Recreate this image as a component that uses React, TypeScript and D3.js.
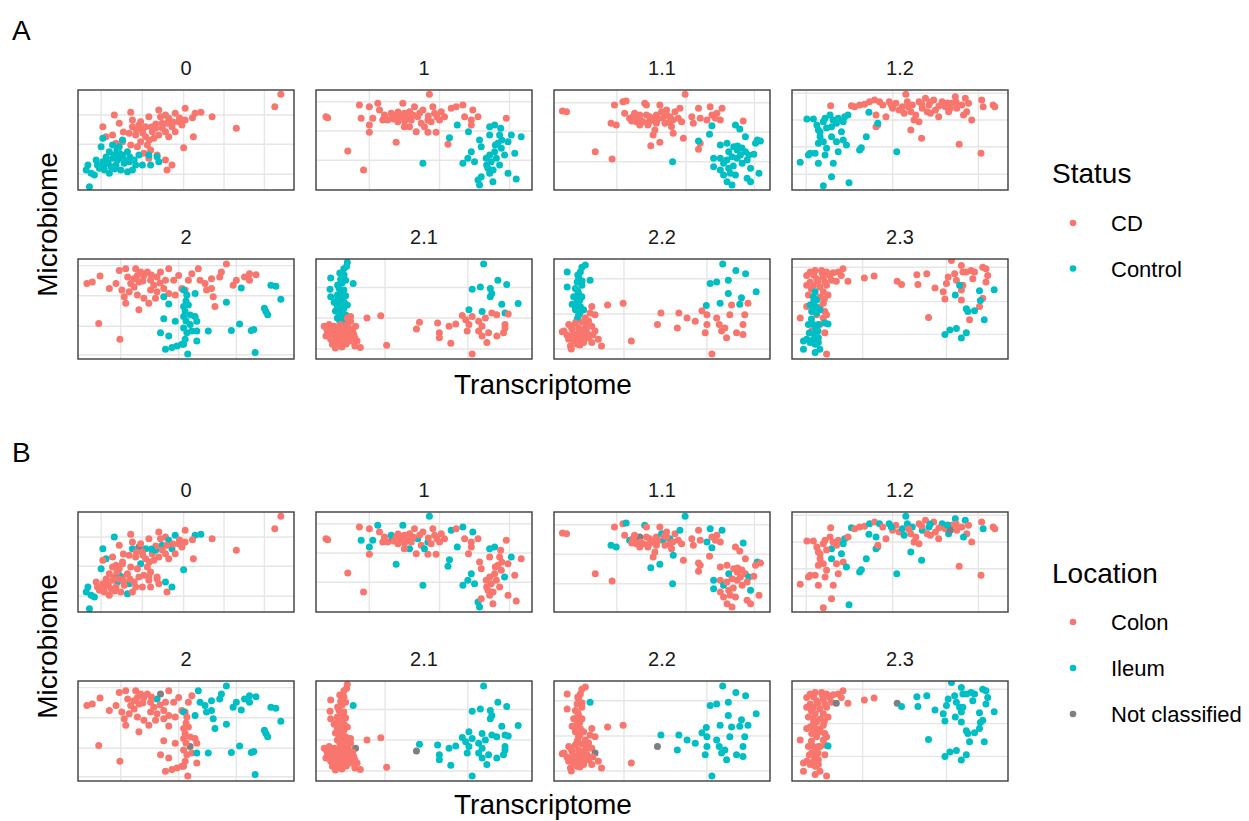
import React from "react";
import * as d3 from "d3";

// Factor levels and their colours (ggplot hue palette, grey for unclassified)
const statusLevels = ["CD", "Control"];
const locationLevels = ["Colon", "Ileum", "Not classified"];
const levelColors = ["#F8766D", "#00BFC4", "#7F7F7F"];

const clusterNames = ["0", "1", "1.1", "1.2", "2", "2.1", "2.2", "2.3"];

// Each sample: [transcriptome, microbiome, status index, location index]
type Sample = [number, number, number, number];

const cluster0: Sample[] = [
  [93.9,95.7,0,0],[91.1,83.3,0,0],[73.3,61.7,0,0],[62.1,73.3,0,0],[56.9,77.7,0,1],[54.2,76.7,0,1],[53.0,72.3,0,0],[49.6,81.7,0,0],[48.9,42.3,0,1],[53.4,53.3,0,0],
  [37.4,80,0,0],[40.5,75,0,0],[42,71.7,0,1],[45,76.7,0,1],[46.6,68.3,0,0],[43.5,63.3,0,1],[40.5,58.3,0,0],[37.4,55,0,0],[34.4,58.3,0,0],[31.3,63.3,0,1],
  [28.2,65,0,2],[25.2,63.3,0,1],[23.7,56.7,0,0],[26.7,55,0,0],[31.3,53.3,0,0],[35.9,61.7,0,1],[38.9,66.7,0,1],[32.8,73.3,0,0],[29,68.3,0,0],[42,53.3,0,0],
  [45,58.3,0,0],[48.1,65,0,0],[49.6,70,0,0],[16.8,75,0,1],[24.4,77.7,0,0],[19.1,66.7,0,0],[11.5,63.3,0,1],[16,55,0,0],[17.6,46.7,0,0],[13,53.3,0,1],
  [20.6,48.3,0,0],[29,48.3,0,1],[33.6,40,0,0],[30.5,36.7,0,0],[36.6,35,0,0],[40.5,30,0,1],[41.2,20,0,0],[43.5,25,0,1],[32.8,31.7,0,0],[24.4,45,0,0],
  [27.5,43.3,0,0],[29.8,60,0,0],[35.1,51.7,0,0],[38.2,73.3,0,0],[41.2,66.7,0,0],[32.1,45,0,0],[25.2,70,0,0],
  [36,66,0,0],[34,63,0,1],[30,57,0,0],[27,60,0,0],[39,62,0,0],[44,68,0,0],[47,72,0,0],[33,50,0,0],[21,58,0,0],
  [11.5,51.7,1,0],[10.7,43.3,1,1],[16,45,1,0],[19.1,43.3,1,0],[20.6,50,1,0],[14.5,38.3,1,0],[16.8,35,1,0],[18.3,30,1,1],[20.6,35,1,0],[22.9,38.3,1,0],
  [23.7,28.3,1,1],[26.7,25,1,0],[28.2,35,1,0],[29.8,25,1,0],[32.8,35,1,0],[36.6,33.3,1,0],[37.4,28.3,1,0],[33.6,25,1,0],[13,28.3,1,0],[15.3,23.3,1,0],
  [17.6,25,1,0],[19.8,20,1,0],[22.9,18.3,1,1],[25.2,20,1,0],[4.6,25,1,1],[3.8,20,1,1],[6.1,16.7,1,1],[7.6,15,1,1],[9.9,21.7,1,0],[12.2,20,1,0],
  [14.5,16.7,1,0],[11.5,28.3,1,0],[5.3,3.3,1,1],[8.4,30,1,0],[21.4,26.7,1,0],[19.1,36.7,1,1],[16,31.7,1,0],
  [12,24,1,0],[14,27,1,0],[17,21,1,0],[19,33,1,0],[21,31,1,0],[24,33,1,0],[13,33,1,0],[9,25,1,0],[26,30,1,0],[18,40,1,0],
];

const cluster1: Sample[] = [
  [4.6,73.3,0,0],[5.4,72.3,0,0],[14.7,39,0,0],[22,20,0,0],[20.1,85,0,0],[24.7,83.3,0,0],[28.6,86.7,0,1],[29.4,80,0,0],[20.9,71.7,0,1],[24.7,65,0,1],
  [24.7,57.7,0,0],[26.3,71.7,0,1],[31.7,75,0,0],[33.2,70,0,0],[35.5,73.3,0,2],[37.9,68.3,0,0],[37.1,47.7,0,1],[40.2,86.7,0,1],[40.9,76.7,0,0],[42.5,71.7,0,0],
  [43.3,63.3,0,1],[45.6,83.3,0,0],[47.1,73.3,0,1],[49.5,80,0,0],[51.8,70,0,1],[52.5,95.7,0,1],[54.1,83.3,0,0],[54.9,76.7,0,0],[51.8,57.7,0,0],[55.6,57.7,0,0],
  [57.2,70,0,0],[59.5,73.3,0,0],[62.6,81.7,0,1],[64.9,83.3,0,0],[68,85,0,1],[68.8,73.3,0,0],[71.9,70,0,0],[72.6,80,0,1],[75,73.3,0,0],[71.9,65,0,0],
  [61.1,45.7,0,1],[88.1,71.7,0,0],[48.7,66.7,0,0],[44.1,70,0,0],[39.4,73.3,0,0],[34.8,76.7,0,1],[30.9,70,0,0],[40.9,63.3,0,0],[46.4,58.3,0,0],[50.2,63.3,0,1],
  [53.3,68.3,0,0],[58,78.3,0,0],[37.1,75,0,0],[43.3,78.3,0,0],
  [36,71,0,0],[41,69,0,0],[45,75,0,0],[48,77,0,0],[52,74,0,0],[56,73,0,0],[38,78,0,0],[32,72,0,0],
  [49.5,26.7,1,1],[61.8,52.3,1,1],[65.4,65,1,1],[70.6,58.3,1,0],[75.7,50,1,0],[76.5,43.3,1,0],[80.4,63.3,1,1],[82.7,65,1,1],[85.5,61.7,1,0],[80.4,55,1,0],
  [85,55,1,0],[90.4,55,1,1],[95,53.3,1,0],[88.9,48.3,1,0],[84.2,46.7,1,0],[85.8,41.7,1,0],[82.7,38.3,1,0],[87.3,35,1,1],[92,36.7,1,0],[71.9,38.3,1,1],
  [70.3,31.7,1,1],[73.4,28.3,1,1],[68,26.7,1,1],[78.8,31.7,1,0],[80.4,35,1,0],[81.1,28.3,1,0],[83.5,31.7,1,0],[85,25,1,0],[79.6,21.7,1,0],[80.4,16.7,1,0],
  [88.9,16.7,1,0],[92.7,11,1,0],[81.9,8.3,1,0],[75,10,1,1],[75.7,5,1,1],[76.5,13.3,1,0],
  [83,45,1,0],[86,50,1,0],[79,25,1,0],[82,20,1,0],
];

const cluster1_1: Sample[] = [
  [3.9,79,0,0],[5.8,78.3,0,0],[19.1,38.3,0,0],[26.9,31,0,0],[28,85,0,0],[31.9,88.3,0,0],[33.4,89,0,1],[26.4,66.7,0,1],[28.8,65,0,1],[32.7,76.7,0,0],
  [35,71.7,0,1],[36.5,73.3,0,0],[38.1,68.3,0,0],[39.7,65,0,0],[38.9,71.7,0,0],[42,86.7,0,1],[42.8,85,0,0],[41.2,68.3,0,0],[43.5,65,0,0],[42.8,75,0,0],
  [45.9,70,0,0],[47.4,75,0,0],[46.7,60,0,0],[45.9,55,0,0],[49,85,0,0],[49.8,78.3,0,1],[50.5,71.7,0,1],[51.4,66.7,0,0],[52.1,80,0,0],[53.7,73.3,0,1],
  [54.4,63.3,0,0],[55.2,56.7,0,1],[56,78.3,0,0],[57.5,71.7,0,0],[58.3,81.7,0,1],[59.1,68.3,0,0],[59.9,51.7,0,0],[60.7,95.7,0,1],[63.8,73.3,0,0],[64.5,66.7,0,0],
  [66.9,81.7,0,0],[67.7,71.7,0,0],[72.3,83.3,0,1],[73.1,75,0,0],[75.4,76.7,0,0],[77,70,0,0],[77.8,81.7,0,1],[74.7,71.7,0,0],[70.8,70,0,1],[87.6,69,0,1],
  [44.8,44.3,0,1],[49,47.7,0,1],[66.9,40.7,0,0],[67.7,46.7,0,0],[53.7,68.3,0,0],[52.1,75,0,0],[47.4,66.7,0,0],[44.3,73.3,0,0],[39.7,75,0,2],[37.3,76.7,0,0],
  [40,70,0,0],[44,68,0,0],[48,71,0,0],[51,76,0,0],[55,70,0,0],[36,69,0,0],
  [54.9,28.3,1,1],[66.9,49,1,0],[72,55.7,1,0],[73.1,64.3,1,1],[84,65,1,0],[86,61,1,0],[88.6,53.3,1,0],[94.1,50,1,1],[95.6,49,1,0],[93.3,46.7,1,0],
  [77,45,1,0],[80.1,46.7,1,0],[80.9,38.3,1,1],[83.2,43.3,1,0],[84.8,40,1,0],[86.3,35,1,0],[88.6,38.3,1,0],[90.2,35,1,1],[92.5,35.7,1,0],[89.4,30,1,0],
  [87.1,26.7,1,0],[84.8,31.7,1,0],[82.4,33.3,1,0],[73.9,31.7,1,1],[77,31.7,1,0],[78.5,26.7,1,1],[73.9,23.3,1,1],[77,20,1,0],[80.9,21.7,1,0],[78.5,15,1,0],
  [81.6,16.7,1,0],[84,15,1,0],[91,21.7,1,1],[89.4,11.7,1,0],[94.9,16.7,1,0],[80.1,8.3,1,0],[82.4,5,1,0],[91,8.3,1,0],
  [85,44,1,0],[87,42,1,0],[80,30,1,0],[83,24,1,0],
];

const cluster1_2: Sample[] = [
  [17.9,84.3,0,0],[27.5,84.3,0,1],[29,83.3,0,0],[31.3,85,0,0],[33.6,85.7,0,0],[35.9,88.3,0,1],[38.2,90,0,0],[40.5,88.3,0,1],[42,85,0,0],[38.9,75,0,1],
  [43.5,73.3,0,0],[39.7,65,0,0],[38.9,63.3,0,1],[45,88.3,0,1],[48.1,86.7,0,0],[49.6,80,0,0],[51.1,83.3,0,1],[52.7,95.7,0,1],[53.4,88.3,0,1],[55,78.3,0,0],
  [55.7,85,0,1],[56.5,70,0,0],[57.3,75,0,0],[58.8,88.3,0,0],[60.3,81.7,0,1],[61.8,91.7,0,0],[63.4,85,0,1],[64.1,76.7,0,0],[65.6,90,0,0],[66.4,80,0,0],
  [67.9,73.3,0,0],[69.5,88.3,0,1],[71,83.3,0,0],[72.5,78.3,0,1],[74,86.7,0,0],[75.6,93.3,0,1],[76.3,81.7,0,0],[78.6,85,0,0],[80.2,91.7,0,1],[80.9,78.3,0,0],
  [81.7,86.7,0,0],[79.4,75,0,1],[83.2,70,0,0],[87.8,90,0,0],[88.5,83.3,0,1],[93.1,85,0,0],[93.9,83.3,0,0],[55,60,0,1],[60,51.7,0,1],[77.4,45.7,0,0],
  [87.5,36.7,0,0],[46.6,81.7,0,0],[51.9,76.7,0,1],[58.8,68.3,0,0],[62.6,78.3,0,0],[73.3,81.7,0,2],
  [60,86,0,0],[64,88,0,1],[68,84,0,0],[72,87,0,1],[76,88,0,0],[54,83,0,0],[46,85,0,1],
  [6.9,71,1,0],[9.9,71,1,0],[11.5,65,1,0],[12.2,60,1,0],[13,53.3,1,0],[14.5,68.3,1,0],[15.3,71.7,1,0],[17.6,75,1,0],[18.3,63.3,1,1],[20.6,66.7,1,0],
  [21.4,71.7,1,0],[23.7,68.3,1,1],[24.4,73.3,1,1],[25.9,75,1,0],[12.2,46.7,1,0],[14.5,48.3,1,0],[16,41.7,1,0],[18.3,53.3,1,1],[20.6,48.3,1,0],[22.9,58.3,1,1],
  [23.7,50,1,0],[25.2,45,1,1],[8.4,36.7,1,0],[10.7,36.7,1,0],[7.6,35,1,0],[3.8,27.7,1,0],[12.2,26.7,1,0],[15.3,35,1,0],[19.1,26.7,1,0],[21.4,38.3,1,0],
  [32.1,42.3,1,1],[31.3,40,1,1],[34.4,53.3,1,1],[35.6,77.7,1,1],[39.7,66.7,1,0],[48.5,38.3,1,1],[18.3,13.3,1,0],[14.5,4.3,1,0],[26.4,7.3,1,1],
  [16,62,1,0],[19,70,1,0],[13,58,1,0],
];

const cluster2: Sample[] = [
  [4.1,75.4,0,0],[6.6,77,0,0],[10.2,82.9,0,0],[14.5,70.5,0,0],[17.6,75.4,0,0],[19.1,88.5,0,0],[22.1,90.2,0,0],[26.7,90.2,0,0],[27.5,83.6,0,0],[20.3,68.9,0,0],
  [21.4,62.3,0,0],[22.1,55.7,0,0],[24.4,75.4,0,0],[25.9,80.3,0,0],[28.2,77,0,0],[30.5,83.6,0,0],[32.1,86.9,0,0],[33.6,78.7,0,0],[35.1,73.8,0,0],[36.6,82,0,1],
  [38.2,86.9,0,2],[27.5,63.9,0,0],[30.5,60.7,0,0],[32.8,55.7,0,0],[35.9,60.7,0,0],[36.6,67.2,0,0],[39.7,70.5,0,0],[40.5,78.7,0,0],[42,90.2,0,0],[44.3,78.7,0,0],
  [46.6,83.6,0,0],[48.1,70.5,0,0],[51.1,78.7,0,0],[52.7,85.2,0,0],[55.7,90.2,0,1],[56.5,78.7,0,1],[58.8,75.4,0,1],[61.8,80.3,0,1],[59.5,68.9,0,1],[61.8,70.5,0,1],
  [65.6,82,0,1],[66.4,86.9,0,1],[68.7,95.1,0,1],[71.8,73.8,0,1],[73.3,78.7,0,1],[77.1,82,0,1],[79.4,85.2,0,1],[82.4,84.3,0,1],[79.4,78.7,0,1],[63.4,52.5,0,1],
  [62.6,62.3,0,1],[28.2,49.2,0,0],[9.6,35.4,0,0],[19.4,19.7,0,0],[45,63.9,0,0],[49.6,68.9,0,0],[42,65.6,0,0],[23.7,67.2,0,0],[33.6,68.9,0,0],
  [30,78,0,0],[34,84,0,0],[26,72,0,0],[38,76,0,0],[29,87,0,0],[23,82,0,0],
  [39.7,62.3,1,0],[42,54.9,1,0],[48.9,68.9,1,1],[50.4,63.9,1,0],[51.1,54.1,1,0],[48.9,52.5,1,0],[49.6,47.5,1,0],[54.2,65.6,1,1],[48.9,42.6,1,0],[54.2,42.6,1,0],
  [55,37.7,1,0],[45,37.7,1,0],[39.7,40.2,1,0],[51.9,34.4,1,2],[48.9,31.1,1,0],[50.4,26.2,1,0],[52.7,27.9,1,0],[55,27.9,1,1],[38.2,26.2,1,0],[42,23,1,0],
  [49.6,19.7,1,0],[55,18,1,0],[48.9,14.8,1,0],[40.5,9.8,1,0],[43.5,11.5,1,0],[45.8,13.1,1,0],[48.1,14.8,1,0],[50.8,4.9,1,0],[60.3,27.9,1,1],[68.7,56.7,1,1],
  [74.8,35.1,1,1],[71,28.5,1,1],[75.6,71.1,1,1],[80.2,28.5,1,1],[81.4,29.5,1,1],[82,6.6,1,1],[86.3,50.8,1,1],[87,47.5,1,1],[87.8,44.3,1,1],[89.3,73.8,1,1],
  [91.6,72.8,1,1],[93.9,59.7,1,1],
  [50,38,1,0],[52,44,1,0],[50,58,1,0],
];

const cluster2_1: Sample[] = [
  [14.5,96.7,1,0],[14.2,92.8,1,0],[12.9,90.2,1,0],[6.8,81,1,0],[11.4,79.7,1,0],[13.7,78.7,1,0],[17.2,75.4,1,1],[6.5,69.8,1,0],[10.7,70.5,1,0],[11.4,67.2,1,0],
  [12.9,68.9,1,0],[9.9,63.9,1,0],[13.7,63.3,1,0],[6.8,62.3,1,0],[10.7,59,1,0],[12.2,55.7,1,0],[9.9,52.5,1,0],[12.9,50.8,1,0],[11.4,47.5,1,0],[10.7,44.3,1,0],
  [13.7,44.3,1,0],[12.2,39.3,1,0],[9.9,41,1,0],[14.5,54.1,1,0],[8.4,56.7,1,0],
  [10,60,1,0],[12,61,1,0],[11,52,1,0],[13,57,1,0],[9,48,1,0],[11,42,1,0],[12,46,1,0],[13,37,1,0],[11,38,1,0],[10,74,1,0],[12,76,1,0],[13,84,1,0],[11,86,1,0],
  [77.6,95.1,1,1],[84.2,78.7,1,1],[88.3,74.4,1,1],[72.3,69.8,1,1],[76.1,72.1,1,1],[80.7,70.5,1,1],[81.4,65.6,1,1],[80.7,62.3,1,1],[86,54.8,1,1],[93.6,55.4,1,1],
  [87.5,45.9,1,1],[70.8,49.2,1,1],[76.9,47.5,1,1],
  [3.8,32.8,0,0],[6.1,34.4,0,0],[8.4,32.8,0,0],[11.4,34.4,0,0],[14.5,34.4,0,0],[16,37.7,0,0],[16,42.6,0,0],[18.3,32.8,0,2],[5.3,27.9,0,0],[7.6,24.6,0,0],
  [9.9,26.2,0,0],[12.9,27.9,0,0],[15.2,29.5,0,0],[17.5,24.6,0,0],[6.8,19.7,0,0],[9.1,18,0,0],[11.4,21.3,0,0],[13.7,19.7,0,0],[16,23,0,0],[7.6,14.8,0,0],
  [10.7,14.8,0,0],[12.9,16.4,0,0],[19,18,0,0],[20.5,11.5,0,0],[23.6,41,0,0],[30,43.3,0,0],[32.7,13.8,0,0],[4.6,23,0,0],[12.2,31.1,0,0],[14.5,41,0,0],
  [5,30,0,0],[7,29,0,0],[9,31,0,0],[11,29,0,0],[13,30,0,0],[15,32,0,0],[17,29,0,0],[6,25,0,0],[8,22,0,0],[10,23,0,0],[12,25,0,0],[14,23,0,0],
  [16,26,0,0],[18,21,0,0],[8,17,0,0],[10,19,0,0],[12,18,0,0],[14,15,0,0],[16,18,0,0],[18,13,0,0],[12,12,0,0],[9,11,0,0],
  [47.9,36.7,0,1],[56.3,36.1,0,1],[61.6,32.8,0,1],[64.7,35.1,0,1],[67.7,43.6,0,1],[72.3,42.6,0,1],[70.8,34.4,0,1],[70,27.9,0,1],[75.3,37.7,0,1],[76.9,32.8,0,1],
  [78.4,41,0,1],[81.4,45.9,0,1],[83.7,44.3,0,1],[87.5,34.4,0,1],[89,44.9,0,1],[57.1,21.3,0,1],[62.4,15.7,0,1],[72.3,4.9,0,1],[75.3,27.9,0,1],[76.9,23,0,1],
  [79.1,16.4,0,1],[79.9,26.2,0,1],[83.7,23,0,1],[86.8,26.2,0,1],[87.5,31.1,0,1],[69.3,39.3,0,1],[57.1,26.2,0,1],[46.5,30,0,2],
];

const cluster2_2: Sample[] = [
  [14.5,94.1,1,0],[12.9,91.8,1,0],[12.2,86.9,1,0],[6.1,86.9,1,0],[11.4,82,1,0],[16.7,78.7,1,1],[10.7,77,1,0],[6.1,72.1,1,0],[9.9,70.5,1,0],[12.9,73.8,1,0],
  [11.4,65.6,1,0],[9.1,62.3,1,0],[12.9,62.3,1,0],[10.7,57.4,1,0],[8.4,54.8,1,0],[12.2,52.5,1,0],[9.9,49.2,1,0],[11.4,44.3,1,0],[10.7,39.3,1,0],[13.7,49.2,1,0],
  [11,68,1,0],[12,59,1,0],[10,52,1,0],[12,46,1,0],[11,41,1,0],[13,78,1,0],[11,84,1,0],[10,62,1,0],
  [78.1,95.1,1,1],[84.2,88.5,1,1],[88.7,85.2,1,1],[80.7,78.7,1,1],[72.3,75.4,1,1],[75.3,77,1,1],[80.7,65.6,1,1],[86.8,61.3,1,1],[93.6,67.2,1,1],[76.9,55.7,1,1],
  [70.5,53.4,1,1],[86,54.8,1,1],
  [17.5,52.5,0,0],[16.7,45.9,0,0],[14.5,41,0,0],[19,44.3,0,0],[6.8,34.4,0,0],[9.9,36.1,0,0],[4.6,27.9,0,0],[8.4,29.5,0,0],[11.4,31.1,0,0],[14.5,31.1,0,0],
  [17.5,32.8,0,0],[7.6,23,0,0],[9.9,24.6,0,0],[12.9,24.6,0,0],[16,24.6,0,0],[19,27.9,0,2],[20.5,19.7,0,0],[6.8,19.7,0,0],[10.7,21.3,0,0],[12.9,19.7,0,0],
  [16,21.3,0,0],[7.6,13.1,0,0],[10.7,14.8,0,0],[13.7,16.4,0,0],[17.5,16.4,0,0],[22,13.1,0,0],[3.8,27.2,0,0],[11.4,23,0,0],
  [13,37,0,0],[15,35,0,0],[8,32,0,0],[12,28,0,0],[15,28,0,0],[6,24,0,0],[9,18,0,0],[14,20,0,0],[18,24,0,0],[12,14,0,0],[8,10,0,0],[16,38,0,0],
  [24.8,54.1,0,0],[32,55.7,0,0],[35.8,18,0,0],[49.5,45.9,0,1],[57.8,45.9,0,1],[47.9,34.4,0,2],[57.1,31.1,0,1],[61.6,41,0,1],[65.4,37.7,0,1],[68.5,48.2,0,1],
  [70.8,44.3,0,1],[70.8,34.4,0,1],[70,26.2,0,1],[73.1,4.9,0,1],[75.3,41,0,1],[76.5,34.4,0,1],[77.6,27.9,0,1],[79.9,21.3,0,1],[81.4,44.3,0,1],[82.2,54.1,0,1],
  [84.5,26.2,0,1],[87.5,34.4,0,1],[88.3,44.3,0,1],[89.8,55.7,0,1],[87.5,24.6,0,1],[79.1,31.1,0,1],
];

const cluster2_3: Sample[] = [
  [6.8,83.6,0,0],[8.4,86.9,0,0],[10.7,88.5,0,0],[13.7,88.5,0,0],[16,86.9,0,0],[8.4,77,0,0],[11.4,80.3,0,0],[14.5,82,0,0],[17.5,83.6,0,0],[15.2,77,0,0],
  [18.3,78.7,0,0],[21.3,86.9,0,0],[23.6,90.2,0,0],[22.8,83.6,0,0],[25.9,77.7,0,0],[6.8,73.8,0,0],[9.9,73.8,0,0],[12.9,72.1,0,0],[16,73.8,0,0],[7.6,63.9,0,0],
  [14.5,67.2,0,0],[16.7,63.9,0,0],[6.8,52.5,0,0],[14.5,55.7,0,0],[15.2,47.5,0,0],[16,44.3,0,0],[3.8,41,0,0],[11.4,44.3,0,0],[14.5,41,0,0],[9.1,27.9,0,0],
  [12.9,34.4,0,0],[15.2,26.2,0,0],[16,4.9,0,0],[19,86.2,0,0],[20.5,77.7,0,2],
  [10,84,0,0],[12,78,0,0],[14,86,0,0],[9,70,0,0],[13,62,0,0],[10,58,0,0],[15,60,0,0],[13,52,0,0],
  [33.5,81,0,0],[38,83,0,0],[48.7,77.7,0,2],[50.7,74.4,0,1],[57.8,84.3,0,1],[58.3,74.4,0,1],[62.4,85.2,0,1],[66.2,71.1,0,1],[63.2,41.6,0,1],[70,67.2,0,1],
  [70.8,60,0,1],[71.5,75.4,0,1],[72.3,82,0,1],[73.8,98.4,0,1],[75.3,85.2,0,1],[78.4,93.4,0,1],[79.1,86.9,0,1],[80.7,86.9,0,1],[82.9,88.5,0,1],[83.7,80.3,0,1],
  [88.3,91.8,0,1],[89.8,90.2,0,1],[90.6,83.6,0,1],[89.8,77,0,1],[88.3,60.7,0,1],[86.8,52.5,0,1],[82.2,39.3,0,1],[78.4,59,0,1],[78.4,68.9,0,1],[84.5,86.9,0,1],
  [76.1,78.7,0,1],[79.1,73.8,0,1],
  [10.7,67.2,1,0],[9.9,62.3,1,0],[11.4,59,1,0],[8.4,54.1,1,0],[10.7,52.5,1,0],[12.9,49.2,1,0],[9.1,47.5,1,0],[11.4,45.9,1,0],[7.6,34.4,1,0],[9.9,34.4,1,0],
  [12.2,34.4,1,0],[15.2,36.1,1,0],[16.7,35.1,1,1],[10.7,24.6,1,0],[12.2,21.3,1,0],[9.9,19.7,1,0],[6.8,19.7,1,0],[5.3,18,1,0],[8.4,16.4,1,0],[10.7,14.8,1,0],
  [12.2,16.4,1,0],[5.3,9.8,1,0],[10.7,6.6,1,0],[12.9,9.8,1,0],[11.4,50.8,1,0],
  [9,40,1,0],[11,30,1,0],[8,26,1,0],[12,28,1,0],[10,56,1,0],
  [77.6,73.8,1,1],[75.6,63.9,1,1],[86.8,68.2,1,1],[93.6,69.2,1,1],[87.2,58.4,1,1],[80.7,50.2,1,1],[81.4,47.5,1,1],[84.5,48.2,1,1],[89,39.3,1,1],[70.8,24.6,1,1],
  [73.1,28.9,1,1],[76.1,30.5,1,1],[78.4,21,1,1],[80.7,26.2,1,1],
];

const clusterSamples = [cluster0, cluster1, cluster1_1, cluster1_2, cluster2, cluster2_1, cluster2_2, cluster2_3];

// Grid breaks per facet (free scales)
const gridX = [
  [10.7, 29.8, 48.9, 67.6, 86.3],
  [24.7, 57.2, 89.6],
  [29.1, 61.1, 92.8],
  [6.6, 46.6, 86.3],
  [19.8, 46.6, 73.3],
  [32, 70.3],
  [32.4, 70.8],
  [32.7, 71.5],
];
const gridY = [
  [75, 45.7, 15.7],
  [88.3, 59, 29.7],
  [87.3, 57.7, 28.3],
  [96.7, 70, 43.3, 15.7],
  [93.4, 63.3, 32.8, 4.3],
  [71.5, 41, 10],
  [80.3, 45, 10],
  [91.8, 57.4, 24.6],
];

const FONT = "'Liberation Sans', Arial, Helvetica, sans-serif";
const PANEL_LEFT = [78, 316, 554, 792];
const PANEL_W = 216;
const PANEL_H = 100;

type Section = {
  tag: string;
  tagY: number;
  rowTops: number[];
  xTitleY: number;
  legendTitle: string;
  levels: string[];
  field: 2 | 3;
  legendTitleY: number;
  legendKeyY: number[];
};

const sections: Section[] = [
  {
    tag: "A", tagY: 40, rowTops: [90, 259], xTitleY: 394,
    legendTitle: "Status", levels: statusLevels, field: 2,
    legendTitleY: 183, legendKeyY: [223, 268.5],
  },
  {
    tag: "B", tagY: 462, rowTops: [512, 681], xTitleY: 814,
    legendTitle: "Location", levels: locationLevels, field: 3,
    legendTitleY: 583, legendKeyY: [622, 668, 714],
  },
];

function Facet({ idx, left, top, field }: { idx: number; left: number; top: number; field: 2 | 3 }) {
  const x = d3.scaleLinear().domain([0, 100]).range([left, left + PANEL_W]);
  const y = d3.scaleLinear().domain([0, 100]).range([top + PANEL_H, top]);
  const clipId = `clip-${field}-${idx}`;
  return (
    <g>
      <text x={left + PANEL_W / 2} y={top - 15} textAnchor="middle" fontSize={20} fill="#1a1a1a" fontFamily={FONT}>
        {clusterNames[idx]}
      </text>
      <clipPath id={clipId}>
        <rect x={left} y={top} width={PANEL_W} height={PANEL_H} />
      </clipPath>
      <rect x={left} y={top} width={PANEL_W} height={PANEL_H} fill="#ffffff" />
      {gridX[idx].map((v, i) => (
        <line key={`gx${i}`} x1={x(v)} x2={x(v)} y1={top} y2={top + PANEL_H} stroke="#e6e6e6" strokeWidth={1.4} />
      ))}
      {gridY[idx].map((v, i) => (
        <line key={`gy${i}`} x1={left} x2={left + PANEL_W} y1={y(v)} y2={y(v)} stroke="#e6e6e6" strokeWidth={1.4} />
      ))}
      <g clipPath={`url(#${clipId})`}>
        {clusterSamples[idx].map((s, i) => (
          <circle key={i} cx={x(s[0])} cy={y(s[1])} r={3.5} fill={levelColors[s[field]]} />
        ))}
      </g>
      <rect x={left} y={top} width={PANEL_W} height={PANEL_H} fill="none" stroke="#3d3d3d" strokeWidth={1.4} />
    </g>
  );
}

function FacetSection({ s }: { s: Section }) {
  const midY = (s.rowTops[0] + s.rowTops[1] + PANEL_H) / 2;
  const midX = (PANEL_LEFT[0] + PANEL_LEFT[3] + PANEL_W) / 2;
  return (
    <g>
      <text x={12} y={s.tagY} fontSize={28} fill="#000" fontFamily={FONT}>{s.tag}</text>
      {clusterNames.map((_, i) => (
        <Facet key={i} idx={i} left={PANEL_LEFT[i % 4]} top={s.rowTops[Math.floor(i / 4)]} field={s.field} />
      ))}
      <text x={midX} y={s.xTitleY} textAnchor="middle" fontSize={28} fill="#000" fontFamily={FONT}>Transcriptome</text>
      <text
        transform={`translate(57,${midY}) rotate(-90)`}
        textAnchor="middle" fontSize={28} fill="#000" fontFamily={FONT}
      >
        Microbiome
      </text>
      <text x={1052} y={s.legendTitleY} fontSize={28} fill="#000" fontFamily={FONT}>{s.legendTitle}</text>
      {s.levels.map((lvl, i) => (
        <g key={lvl}>
          <circle cx={1073} cy={s.legendKeyY[i]} r={3.3} fill={levelColors[i]} />
          <text x={1111} y={s.legendKeyY[i] + 8} fontSize={22} fill="#000" fontFamily={FONT}>{lvl}</text>
        </g>
      ))}
    </g>
  );
}

export default function App() {
  return (
    <svg
      width={1249}
      height={821}
      viewBox="0 0 1249 821"
      style={{ position: "absolute", left: 0, top: 0, background: "#ffffff" }}
    >
      <rect width={1249} height={821} fill="#ffffff" />
      {sections.map((s) => (
        <FacetSection key={s.tag} s={s} />
      ))}
    </svg>
  );
}
